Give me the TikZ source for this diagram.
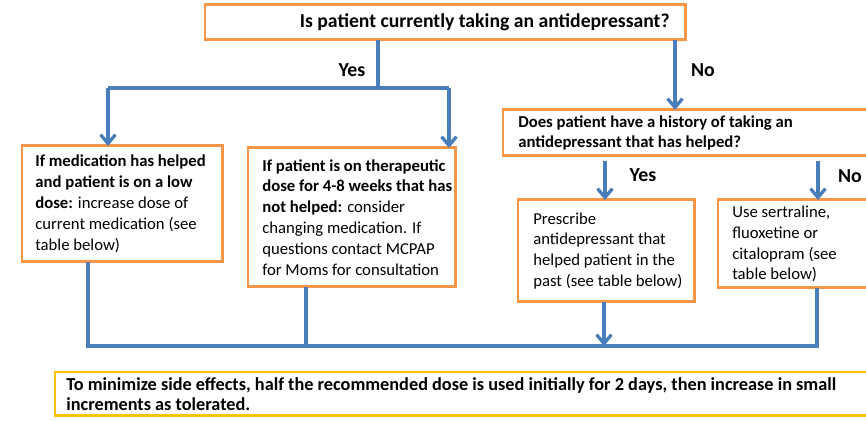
\documentclass[tikz,border=0pt]{standalone}
\usepackage{fontspec}
\setmainfont{Carlito}
\usetikzlibrary{arrows.meta}
\definecolor{boxorange}{HTML}{F79646}
\definecolor{lineblue}{HTML}{4A7EBB}
\definecolor{noteyellow}{HTML}{FFC000}
\tikzset{
  qbox/.style={draw=boxorange, line width=1.7pt, anchor=north west, outer sep=0pt, inner sep=0pt},
  boxtext/.style={anchor=west, align=left, inner sep=0pt, font=\fontsize{9.5}{11.9}\selectfont},
  flow/.style={draw=lineblue, line width=1.9pt},
  answer/.style={font=\bfseries\fontsize{11.3}{13}\selectfont},
}
\begin{document}
\begin{tikzpicture}[x=0.02cm, y=-0.02cm, >={Straight Barb[length=5pt,width=8.5pt]}]
  \useasboundingbox (0,0) rectangle (866,421);
  \clip (0,0) rectangle (866,421);
  % boxes
  \node[qbox, minimum width=9.62cm, minimum height=0.7cm] (taking) at (205,5) {};
  \node[boxtext, anchor=east, font=\bfseries\fontsize{11.2}{13}\selectfont] (taking-txt)
    at ([xshift=-0.32cm]taking.east) {Is patient currently taking an antidepressant?};

  \node[qbox, minimum width=4.02cm, minimum height=2.32cm] (lowdose) at (22,146) {};
  \node[boxtext] (lowdose-txt) at ([xshift=0.26cm]lowdose.west)
    {\textbf{If medication has helped}\\ \textbf{and patient is on a low}\\
     \textbf{dose:} increase dose of\\ current medication (see\\ table below)};

  \node[qbox, minimum width=4.16cm, minimum height=2.78cm] (nothelped) at (248,148) {};
  \node[boxtext] (nothelped-txt) at ([xshift=0.28cm]nothelped.west)
    {\textbf{If patient is on therapeutic}\\ \textbf{dose for 4-8 weeks that has}\\
     \textbf{not helped:} consider\\ changing medication. If\\ questions contact MCPAP\\
     for Moms for consultation};

  \node[qbox, minimum width=7.54cm, minimum height=0.92cm] (history) at (503,110) {};
  \node[boxtext, font=\bfseries\fontsize{9.5}{11.9}\selectfont] (history-txt)
    at ([xshift=0.3cm]history.west)
    {Does patient have a history of taking an\\ antidepressant that has helped?};

  \node[qbox, minimum width=3.54cm, minimum height=2.04cm] (prescribe) at (518,200) {};
  \node[boxtext] (prescribe-txt) at ([xshift=0.3cm]prescribe.west)
    {Prescribe\\ antidepressant that\\ helped patient in the\\ past (see table below)};

  \node[qbox, minimum width=3.24cm, minimum height=1.76cm] (usessri) at (718,200) {};
  \node[boxtext] (usessri-txt) at ([xshift=0.28cm]usessri.west)
    {Use sertraline,\\ fluoxetine or\\ citalopram (see\\ table below)};

  \node[qbox, draw=noteyellow, minimum width=16.5cm, minimum height=0.88cm] (note) at (55,372) {};
  \node[boxtext, font=\bfseries\fontsize{10.4}{11.4}\selectfont] (note-txt)
    at ([xshift=0.22cm]note.west)
    {To minimize side effects, half the recommended dose is used initially for 2 days, then increase in small\\
     increments as tolerated.};

  % yes / no from the first question
  \coordinate (ysplit) at (378,88);
  \coordinate (yleft) at (108,88);
  \coordinate (yright) at (449,88);
  \draw[flow] (taking.south -| ysplit) -- (ysplit);
  \draw[flow] (yleft) -- (yright);
  \draw[flow, ->] (yleft) -- (yleft |- lowdose.north);
  \draw[flow, ->] (yright) -- (yright |- nothelped.north);
  \node[answer] (yes1) at (352,70) {Yes};
  \coordinate (nox) at (675,0);
  \draw[flow, ->] (taking.south -| nox) -- (history.north -| nox);
  \node[answer] (no1) at (703,70) {No};

  % second question
  \coordinate (hyes) at (605,0);
  \coordinate (hno) at (818,0);
  \draw[flow, ->, shorten <=3pt] (history.south -| hyes) -- (prescribe.north -| hyes);
  \draw[flow, ->, shorten <=3pt] (history.south -| hno) -- (usessri.north -| hno);
  \node[answer] (yes2) at (643,175) {Yes};
  \node[answer] (no2) at (850,176) {No};

  % joining line
  \coordinate (jleft) at (88,346);
  \coordinate (jright) at (817,346);
  \draw[flow] (lowdose.south -| jleft) -- (jleft) -- (jright) -- (usessri.south -| jright);
  \draw[flow] (nothelped.south -| 306,0) -- (306,346);
  \draw[flow, ->] (prescribe.south -| 604,0) -- (604,346);
\end{tikzpicture}
\end{document}
